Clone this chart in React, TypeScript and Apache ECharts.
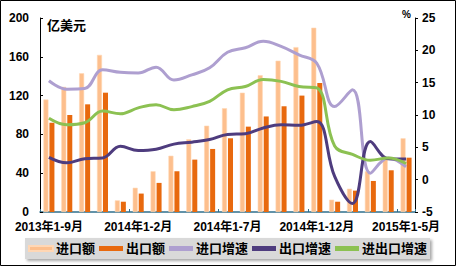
import React, { useEffect, useRef } from "react";
import * as echarts from "echarts";

const categories = [
  "2013年1-9月", "2013年1-10月", "2013年1-11月", "2013年1-12月",
  "2014年1月", "2014年1-2月", "2014年1-3月", "2014年1-4月", "2014年1-5月",
  "2014年1-6月", "2014年1-7月", "2014年1-8月", "2014年1-9月", "2014年1-10月",
  "2014年1-11月", "2014年1-12月", "2015年1月", "2015年1-2月", "2015年1-3月",
  "2015年1-4月", "2015年1-5月",
];
const importValues = [116, 129, 143, 162, 12, 25, 42, 58, 75, 89, 107, 123, 141, 156, 170, 190, 12.7, 24, 42, 55, 76];
const exportValues = [92, 100, 111, 123, 10.6, 19, 30, 42, 54, 65, 76, 88, 98.5, 109, 120, 133, 10.6, 22, 32, 43, 56];
const importGrowth = [15.3, 14.0, 14.1, 17.0, 16.6, 16.5, 17.4, 15.4, 16.2, 17.3, 19.7, 20.4, 21.4, 20.6, 19.3, 18.0, 11.3, 13.9, 1.0, 3.35, 2.0];
const exportGrowth = [3.45, 2.6, 3.25, 3.35, 5.15, 4.5, 4.7, 5.5, 5.8, 6.2, 7.0, 7.1, 8.0, 8.5, 8.4, 9.0, 0.5, -3.7, 5.9, 3.25, 3.2];
const totalGrowth = [9.5, 8.5, 8.8, 10.6, 10.2, 11.1, 11.6, 10.8, 11.3, 12.1, 13.9, 14.4, 15.5, 15.2, 14.4, 14.2, 5.2, 3.9, 3.0, 3.35, 2.5];

const FONT = '"Liberation Sans", Arial, "Noto Sans CJK SC", sans-serif';

export default function App() {
  const ref = useRef<HTMLDivElement>(null);
  useEffect(() => {
    if (!ref.current) return;
    const chart = echarts.init(ref.current, undefined, { renderer: "svg" });
    const labelStyle = { color: "#000", fontWeight: "bold" as const, fontSize: 12, fontFamily: FONT };
    chart.setOption({
      animation: false,
      backgroundColor: "#fff",
      grid: { left: 40, right: 41, top: 18, bottom: 54, containLabel: false },
      legend: {
        left: 25,
        top: 238,
        icon: "rect",
        itemWidth: 24,
        itemHeight: 5,
        itemGap: 4,
        padding: [4, 3, 4, 3],
        backgroundColor: "#d9d9d9",
        shadowColor: "rgba(0,0,0,0.35)",
        shadowBlur: 3,
        shadowOffsetX: 2,
        shadowOffsetY: 2,
        textStyle: { color: "#000", fontWeight: "bold", fontSize: 13, fontFamily: FONT, padding: [0, 0, 0, -2] },
        data: ["进口额", "出口额", "进口增速", "出口增速", "进出口增速"],
      },
      xAxis: {
        type: "category",
        data: categories,
        boundaryGap: true,
        axisLine: { onZero: false, lineStyle: { color: "#2f6f8c", width: 1.5 } },
        axisTick: { show: true, inside: true, length: 3, lineStyle: { color: "#2f6f8c" } },
        axisLabel: { ...labelStyle, interval: 4, margin: 9 },
        splitLine: { show: false },
      },
      yAxis: [
        {
          type: "value",
          min: 0,
          max: 200,
          interval: 40,
          axisLine: { show: true, lineStyle: { color: "#000" } },
          axisTick: { show: true, inside: true, length: 3, lineStyle: { color: "#000" } },
          axisLabel: { ...labelStyle, margin: 11 },
          splitLine: { show: false },
        },
        {
          type: "value",
          min: -5,
          max: 25,
          interval: 5,
          axisLine: { show: true, lineStyle: { color: "#000" } },
          axisTick: { show: true, inside: false, length: 3, lineStyle: { color: "#000" } },
          axisLabel: { ...labelStyle, margin: 7 },
          splitLine: { show: false },
        },
      ],
      graphic: [
        {
          type: "rect",
          shape: { x: 0.5, y: 0.5, width: 455, height: 265 },
          style: { fill: "none", stroke: "#000", lineWidth: 1 },
          silent: true,
        },
        {
          type: "text",
          left: 47,
          top: 19,
          style: { text: "亿美元", fill: "#000", font: `bold 13px ${FONT}` },
        },
        {
          type: "text",
          left: 402,
          top: 9,
          style: { text: "%", fill: "#000", font: `bold 10px ${FONT}` },
        },
      ],
      series: [
        {
          name: "进口额",
          type: "bar",
          yAxisIndex: 0,
          data: importValues,
          barWidth: 5,
          barGap: "20%",
          itemStyle: { color: "#FDBF8D", borderColor: "#FFD7B5", borderWidth: 0.6 },
        },
        {
          name: "出口额",
          type: "bar",
          yAxisIndex: 0,
          data: exportValues,
          barWidth: 5,
          barGap: "20%",
          itemStyle: { color: "#E8690E" },
        },
        {
          name: "进口增速",
          type: "line",
          yAxisIndex: 1,
          data: importGrowth,
          smooth: 0.4,
          symbol: "none",
          lineStyle: { color: "#AE9FD0", width: 3 },
          itemStyle: { color: "#AE9FD0" },
          z: 3,
        },
        {
          name: "出口增速",
          type: "line",
          yAxisIndex: 1,
          data: exportGrowth,
          smooth: 0.4,
          symbol: "none",
          lineStyle: { color: "#4E3C7E", width: 3 },
          itemStyle: { color: "#4E3C7E" },
          z: 3,
        },
        {
          name: "进出口增速",
          type: "line",
          yAxisIndex: 1,
          data: totalGrowth,
          smooth: 0.4,
          symbol: "none",
          lineStyle: { color: "#8CC152", width: 3 },
          itemStyle: { color: "#8CC152" },
          z: 3,
        },
      ],
    });
    return () => chart.dispose();
  }, []);
  return (
    <div
      ref={ref}
      style={{ position: "fixed", left: 0, top: 0, width: 456, height: 266 }}
    />
  );
}
